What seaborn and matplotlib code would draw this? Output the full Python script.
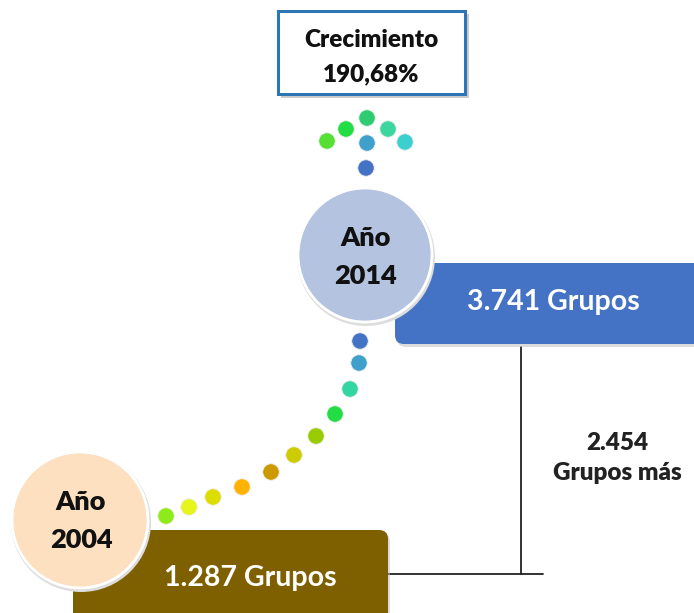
"""
Infografía: crecimiento de grupos entre 2004 y 2014.
"""
import matplotlib
matplotlib.use("Agg")
import matplotlib.pyplot as plt
from matplotlib.patches import Circle, FancyBboxPatch, Rectangle
import pandas as pd
import seaborn as sns

# --- datos ---
anios = ["2004", "2014"]
grupos = ["1.287", "3.741"]
diferencia = "2.454"
crecimiento = "190,68%"

# colores de los puntos (de 2004 hacia 2014, luego la flecha)
colores_camino = ["#8FEA1A", "#E6F51A", "#DDDD00", "#FFB300", "#CC9900",
                  "#CCCC00", "#99CC00", "#22DD44", "#33D6A0", "#3FA0CC", "#4472C4"]
colores_flecha = ["#4472C4", "#3FA0CC", "#55E033", "#22DD44", "#2ECC71",
                  "#3DD6A0", "#3CCFCF"]

# --- maquetación (pixeles) ---
camino_xy = [(166, 516), (189, 507), (213, 497), (242, 487), (271, 472),
             (294, 455), (316, 436), (335, 414), (350, 389), (359, 363), (360, 341)]
flecha_xy = [(366, 168), (367, 143), (327, 141), (346, 129), (367, 118),
             (388, 129), (405, 142)]

sns.set_style("white")
plt.rcParams["font.family"] = ["Lato", "DejaVu Sans"]

fig = plt.figure(figsize=(6.94, 6.13), dpi=100)
ax = fig.add_axes([0, 0, 1, 1])


def caja(x, y, w, h, color, z):
    ax.add_patch(FancyBboxPatch((x + 2, y + 3), w, h, boxstyle="round,pad=0,rounding_size=9",
                                fc="#BBBBBB", ec="none", alpha=0.5, zorder=z - 0.1))
    ax.add_patch(FancyBboxPatch((x, y), w, h, boxstyle="round,pad=0,rounding_size=9",
                                fc=color, ec="none", zorder=z))


def circulo(cx, cy, r, color, z):
    ax.add_patch(Circle((cx + 1, cy + 2), r + 2, fc="#DDDDDD", ec="none", zorder=z - 0.1))
    ax.add_patch(Circle((cx, cy), r, fc=color, ec="white", lw=2, zorder=z))


# puntos
puntos = pd.DataFrame({
    "x": [p[0] for p in camino_xy + flecha_xy],
    "y": [p[1] for p in camino_xy + flecha_xy],
    "color": colores_camino + colores_flecha,
})
puntos["id"] = range(len(puntos))
sns.scatterplot(data=puntos, x="x", y="y", hue="id", palette=list(puntos["color"]),
                s=140, edgecolor="#EEEEEE", linewidth=0.6, legend=False, ax=ax, zorder=4)

# cajas de valores
caja(395, 263, 320, 81, "#4472C4", 2)
ax.text(553, 302, f"{grupos[1]} Grupos", color="white", fontsize=20.5, fontweight="bold",
        ha="center", va="center", zorder=5)
caja(73, 530, 315, 100, "#7F6000", 2)
ax.text(250, 578, f"{grupos[0]} Grupos", color="white", fontsize=20.5, fontweight="bold",
        ha="center", va="center", zorder=5)

# círculos de años
circulo(365, 255, 67, "#B4C3E0", 3)
ax.text(366, 257, f"Año\n{anios[1]}", fontsize=19.5, fontweight="heavy", ha="center",
        va="center", linespacing=1.7, color="#111111", zorder=5)
circulo(80, 520, 68, "#FDE0C0", 3)
ax.text(81, 521, f"Año\n{anios[0]}", fontsize=19.5, fontweight="heavy", ha="center",
        va="center", linespacing=1.7, color="#111111", zorder=5)

# conector de la diferencia
ax.plot([388, 543], [574, 574], color="#222222", lw=1.3, zorder=1)
ax.plot([521, 521], [347, 574], color="#222222", lw=1.3, zorder=1)
ax.text(617, 458, f"{diferencia}\nGrupos más", fontsize=17.5, fontweight="heavy",
        color="#222222", ha="center", va="center", linespacing=1.45)

# recuadro de crecimiento
ax.add_patch(Rectangle((281, 14), 188, 84, fc="#CCCCCC", ec="none", zorder=1))
ax.add_patch(Rectangle((278, 11), 187, 83, fc="white", ec="#2E75B6", lw=2.2, zorder=2))
ax.text(371, 57, f"Crecimiento\n{crecimiento}", fontsize=17.5, fontweight="heavy",
        color="#111111", ha="center", va="center", linespacing=1.7, zorder=3)

ax.set_xlim(0, 694)
ax.set_ylim(613, 0)
ax.axis("off")

fig.savefig("out.png", dpi=100)
